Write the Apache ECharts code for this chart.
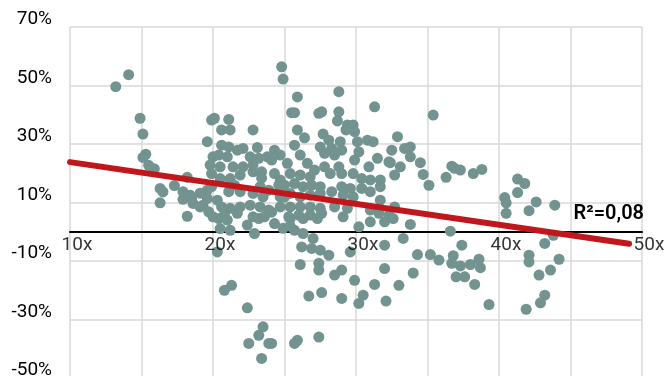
<!DOCTYPE html>
<html><head><meta charset="utf-8">
<script src="https://cdn.jsdelivr.net/npm/echarts@6/dist/echarts.min.js"></script>
<style>html,body{margin:0;padding:0;background:#fff}#c{width:664px;height:376px}</style>
</head><body><div id="c"></div>
<script>
// P/E multiple (x) and subsequent return (%) for each observation
const peRatio = [
13.2,14.1,14.9,15.1,15.3,15.1,15.5,15.9,16.3,16.5,16.3,17.3,17.9,18.5,19.1,18.2,19.3,19.7,20.0,20.3,
18.2,17.9,18.4,18.6,19.1,19.6,19.6,19.9,19.8,20.0,19.6,19.9,20.1,21.1,20.6,21.2,22.8,20.6,21.1,21.7,
22.1,23.1,20.4,21.0,22.6,23.2,23.8,20.5,21.4,22.1,22.8,21.9,22.8,23.4,21.2,20.5,21.5,19.9,21.1,21.9,
23.3,22.8,23.5,20.3,20.6,21.2,21.9,22.6,23.3,23.9,20.8,21.7,22.8,23.6,20.4,21.0,20.5,21.2,22.4,22.9,
23.2,20.8,21.3,22.4,23.5,23.2,22.5,23.9,23.4,24.8,24.9,25.9,28.8,25.5,25.7,27.4,27.6,28.8,28.7,31.3,
25.9,26.4,27.7,29.4,29.8,29.3,29.9,30.1,30.8,31.2,32.9,25.7,24.3,24.7,26.1,27.5,28.1,28.9,28.3,27.8,
29.0,28.5,30.2,29.9,31.5,32.5,32.3,32.7,30.9,24.1,25.2,26.6,27.1,27.8,28.8,28.2,29.0,29.8,30.4,31.0,
31.7,25.4,26.1,26.8,24.7,24.3,25.0,25.7,26.3,26.9,27.5,28.3,29.0,29.6,30.4,31.0,31.7,29.1,29.8,24.7,
25.4,26.1,26.8,27.5,24.7,25.4,26.1,26.8,27.5,28.5,29.4,25.3,26.0,26.8,27.6,29.1,31.0,31.7,31.6,32.3,
32.7,25.4,26.3,27.3,25.7,26.3,27.0,26.2,26.9,27.5,28.1,29.6,26.1,27.4,27.4,28.5,29.0,29.9,26.7,27.6,
29.0,30.2,30.5,31.3,32.1,32.0,32.0,33.0,30.2,31.0,32.0,32.6,24.1,25.7,25.9,27.4,35.4,33.4,33.8,33.8,
33.1,34.5,34.7,35.1,36.7,36.9,37.3,36.3,38.2,38.8,41.3,41.8,41.3,40.4,40.5,40.5,42.1,33.8,33.3,36.6,
37.4,34.3,35.2,35.8,34.0,36.8,36.7,37.3,38.0,38.6,38.7,37.0,37.6,38.3,39.3,41.9,42.1,42.1,42.6,43.9,
43.8,43.2,44.2,43.6,42.8,43.2,42.9,32.4,24.3,24.9,24.1,25.4,23.9,24.6,25.0,23.4
];
const returns = [
49.6,53.7,38.8,33.4,26.5,25.4,22.7,21.5,14.8,13.6,9.9,15.8,11.1,11.4,13.2,5.3,9.1,6.8,5.1,-6.9,
18.6,13.7,12.5,9.7,8.5,14.2,11.4,19.9,22.8,25.6,30.8,38.2,38.8,38.4,34.8,34.8,34.8,29.6,29.0,27.9,
28.5,28.8,26.2,25.6,25.6,25.1,25.6,22.2,22.2,22.2,22.8,19.4,20.5,20.5,18.2,18.2,15.9,15.4,13.7,13.7,
15.4,13.1,11.9,10.8,8.5,8.0,8.5,9.1,8.5,7.4,5.7,6.3,5.1,5.1,4.5,4.0,1.1,0.5,2.3,-0.6,
4.5,-20.0,-18.3,-26.0,-32.5,-35.4,-38.2,-38.2,-43.3,56.4,52.2,46.1,47.9,40.7,40.7,40.5,41.0,41.0,37.9,42.7,
34.8,32.1,33.4,36.5,36.5,34.8,34.2,30.8,31.3,30.8,32.5,29.6,27.9,26.2,26.2,29.0,31.3,30.8,28.5,26.8,
27.9,26.2,27.3,24.5,25.1,27.9,23.9,19.4,22.2,24.5,23.4,23.4,21.1,22.2,22.2,19.9,19.9,19.9,18.2,17.7,
17.7,19.9,19.4,18.8,17.7,19.9,15.9,16.5,15.4,15.9,15.4,13.7,15.4,14.8,14.8,13.7,15.4,12.5,11.9,11.9,
13.1,11.9,12.5,13.1,8.5,8.5,8.5,8.5,8.0,8.5,8.0,5.1,5.7,5.7,6.3,5.1,7.4,10.8,6.3,5.7,
8.5,4.5,4.5,4.5,0.5,-0.6,-2.3,-5.2,-5.7,-6.3,-8.0,-6.9,-11.2,-10.8,-13.1,-14.8,-13.1,-16.6,-22.0,-20.8,
-22.8,-24.5,-21.7,-18.0,-23.7,-12.6,-4.6,-18.3,1.7,3.4,3.4,4.5,-38.2,-38.2,-37.1,-36.0,39.9,28.5,29.0,25.6,
22.2,23.6,19.6,15.9,22.4,21.7,21.1,18.6,19.9,21.3,18.0,16.5,13.4,11.7,9.9,6.3,7.2,2.5,-2.3,0.2,
-4.6,-7.8,-7.8,-9.7,-14.1,-8.2,-10.8,-11.7,-11.2,-9.4,-12.3,-15.4,-15.4,-18.0,-24.9,-26.5,-10.3,-8.0,10.2,9.1,
-1.2,-4.0,-9.4,-13.1,-14.8,-21.7,-24.3,23.6,2.8,1.2,6.7,1.9,14.2,15.9,11.8,18.3
];
// Linear trend line end points
const trendX = [10, 49.1];
const trendY = [23.8, -4.1];
// x tick labels (shown on the zero line)
const xTickValues = [10, 20, 30, 40, 50];
const r2Text = 'R²=0,08';

const points = peRatio.map((x, i) => [x, returns[i]]);
const trend = trendX.map((x, i) => [x, trendY[i]]);
const xTickData = xTickValues.map(v => [v, 0]);

const chart = echarts.init(document.getElementById('c'), null, {renderer: 'canvas'});
const FONT = 'Roboto';
chart.setOption({
  animation: false,
  backgroundColor: '#ffffff',
  grid: {left: 70, right: 22, top: 27, bottom: -2, containLabel: false, outerBoundsMode: 'none'},
  xAxis: {
    type: 'value', min: 10, max: 50, interval: 5,
    axisLine: {show: true, onZero: true, lineStyle: {color: '#000', width: 2}},
    axisTick: {show: false},
    axisLabel: {show: false},
    splitLine: {show: true, lineStyle: {color: '#d9d9d9', width: 1.5}}
  },
  yAxis: {
    type: 'value', min: -50, max: 70, interval: 20,
    axisLine: {show: false}, axisTick: {show: false},
    axisLabel: {
      show: true, margin: 18, color: '#000', fontFamily: FONT, fontSize: 19,
      verticalAlign: 'bottom', lineHeight: 15, showMinLabel: true, showMaxLabel: true,
      formatter: v => v + '%'
    },
    splitLine: {show: true, lineStyle: {color: '#d9d9d9', width: 1.5}}
  },
  series: [
    {
      type: 'scatter', data: points, symbolSize: 11, z: 2,
      itemStyle: {color: '#72938f', opacity: 1}
    },
    {
      type: 'line', data: trend, showSymbol: false, symbol: 'none', z: 3,
      lineStyle: {color: '#c0161c', width: 6, cap: 'round'}
    },
    {
      type: 'scatter', data: xTickData, symbolSize: 2, silent: true, z: 4,
      itemStyle: {color: 'rgba(0,0,0,0)'},
      label: {
        show: true, position: [8, 5], align: 'center', verticalAlign: 'top',
        color: '#000', fontFamily: FONT, fontSize: 19, lineHeight: 19,
        formatter: p => p.value[0] + 'x'
      },
      labelLayout: {hideOverlap: false}
    }
  ],
  graphic: [{
    type: 'text', right: 20, top: 204, z: 10,
    style: {text: r2Text, fill: '#000', font: '600 20px Roboto'}
  }]
});
</script></body></html>
